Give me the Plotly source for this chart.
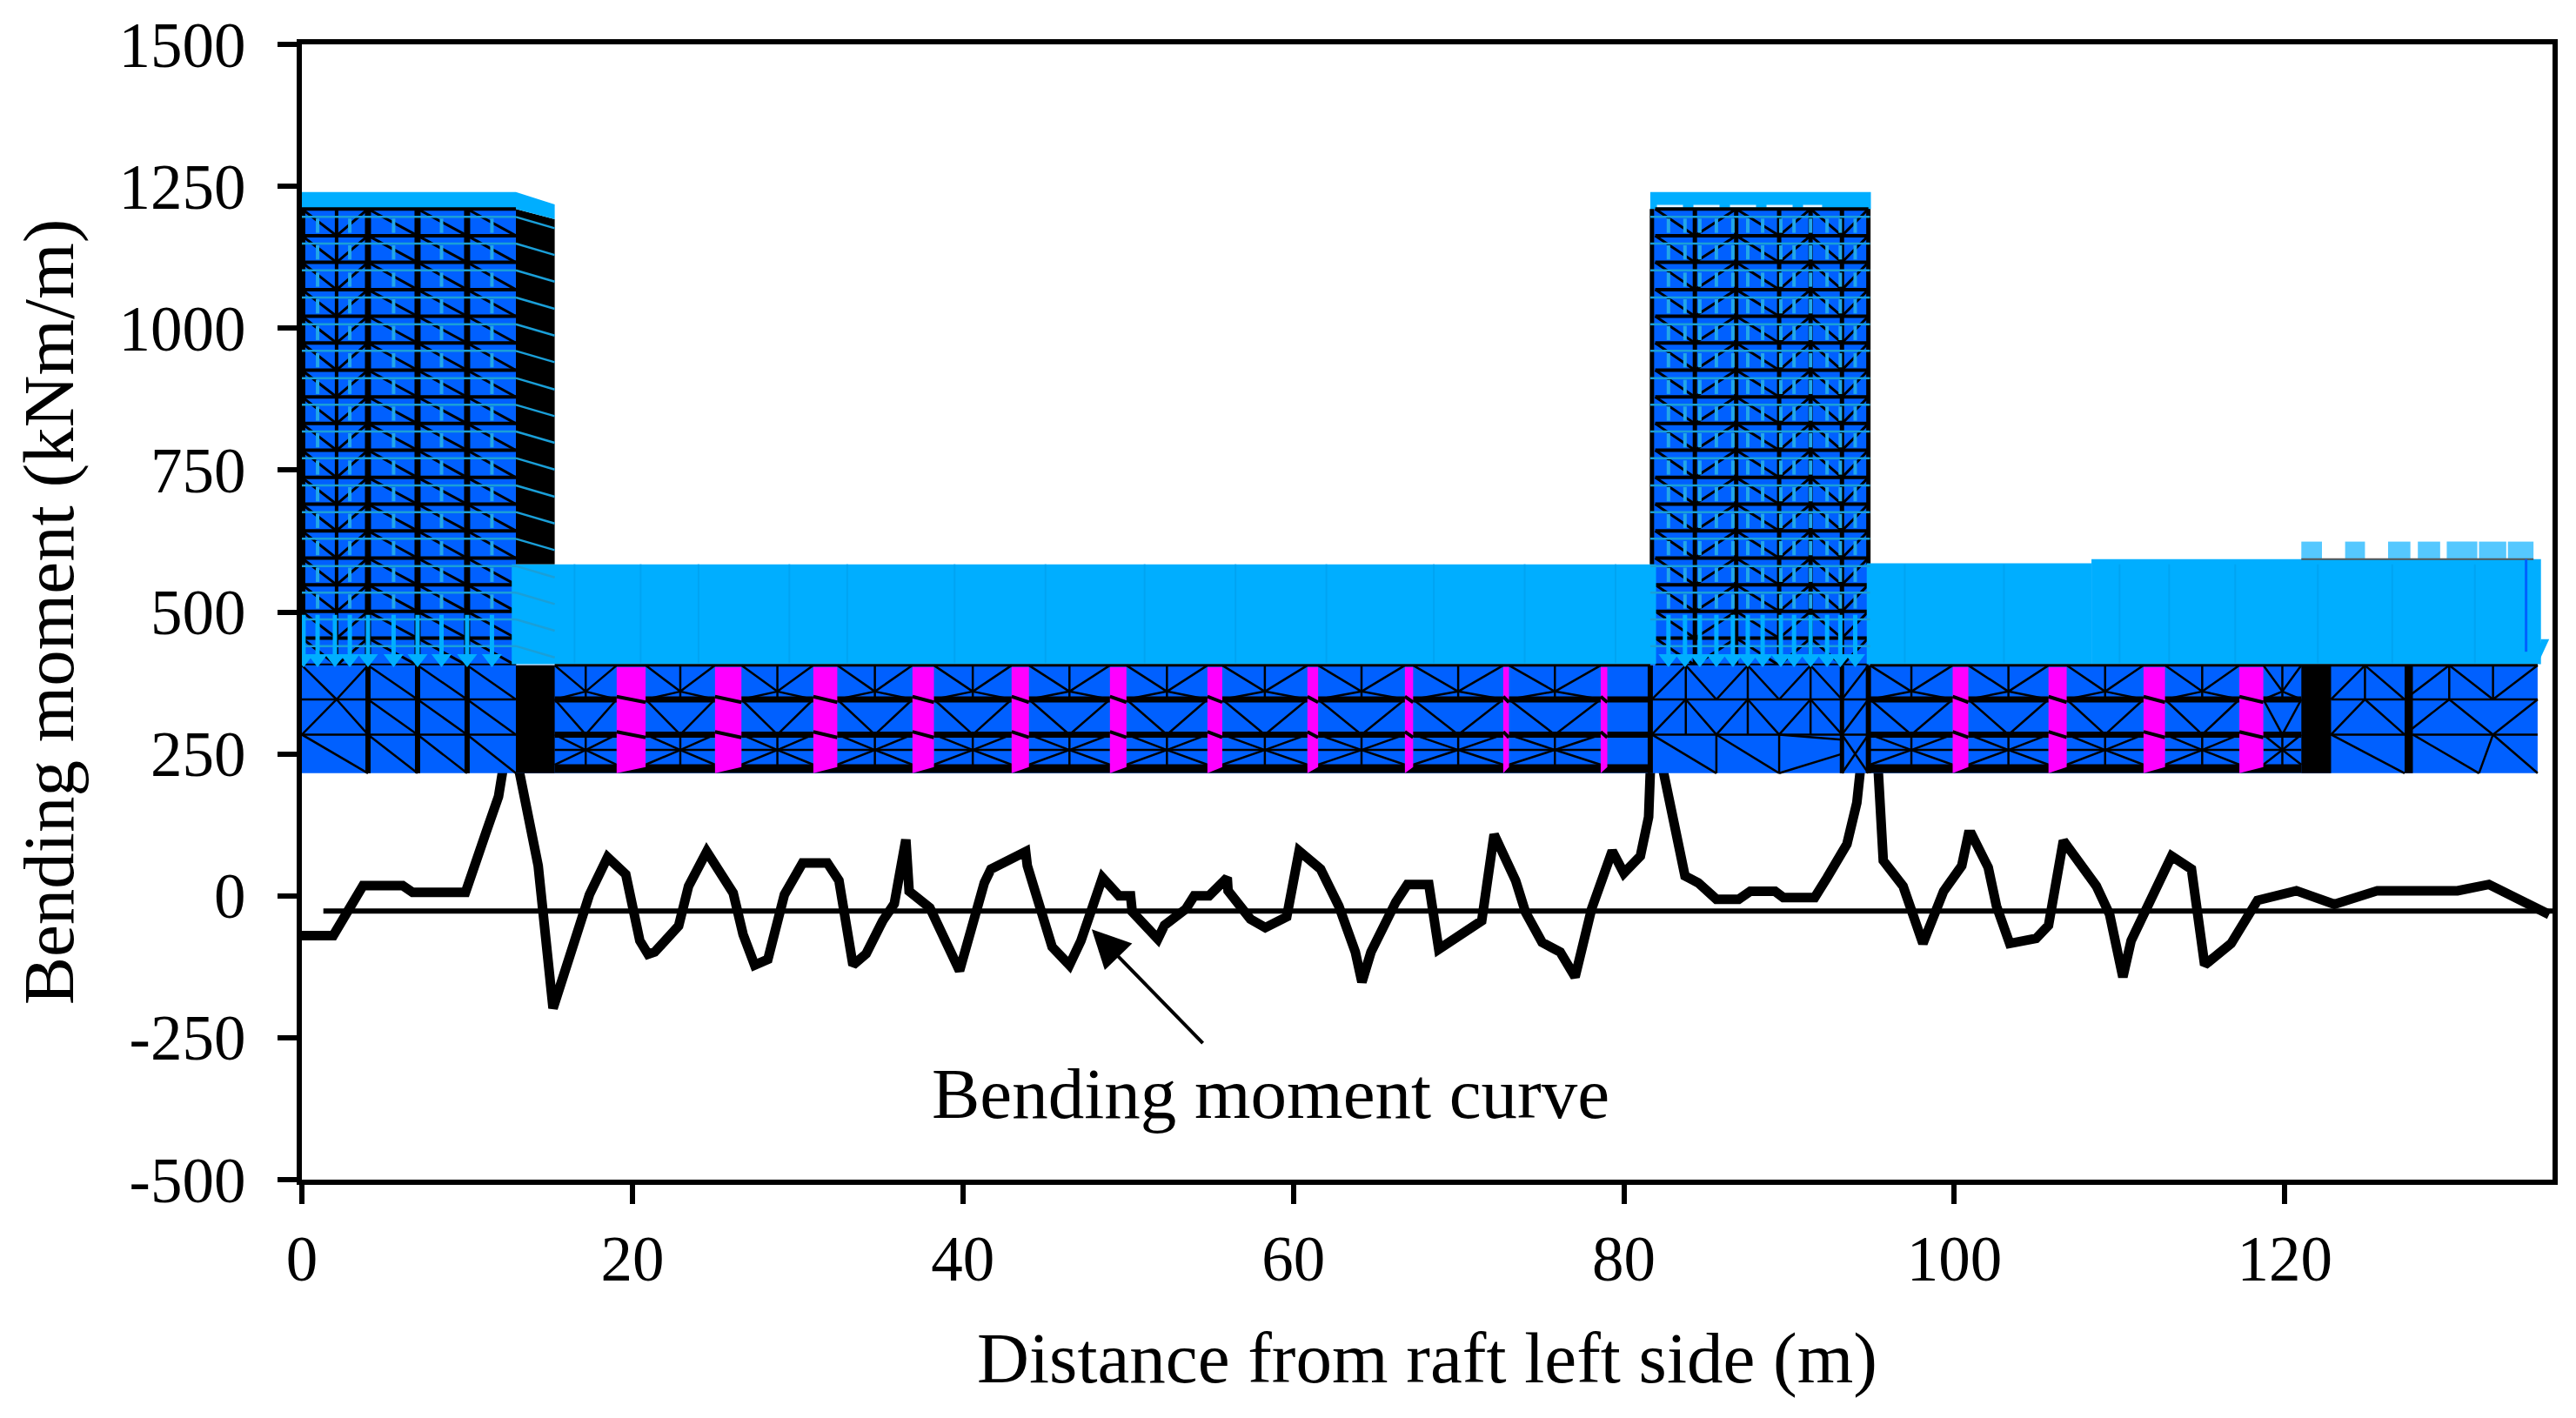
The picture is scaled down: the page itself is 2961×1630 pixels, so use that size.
import plotly.graph_objects as go

# bending moment curve (m, kNm/m)
distance = [0, 1.9, 3.7, 6.1, 6.7, 9.9, 11.1, 11.9, 12.6, 14.3, 15.2, 16.8, 17.4, 18.5, 19.6, 20.45, 20.95, 21.35,
            22.8, 23.4, 24.5, 26.1, 26.7, 27.4, 28.2, 29.2, 30.3, 31.8, 32.5, 33.35, 34.15, 35.15, 35.85, 36.55, 36.75,
            38.0, 39.8, 41.3, 41.7, 43.8, 43.9, 45.4, 46.45, 47.15, 48.45, 49.45, 50.15, 50.25, 51.8, 52.2, 53.5, 54.0,
            54.9, 56.0, 56.05, 57.4, 58.3, 59.6, 60.35, 61.65, 62.75, 63.75, 64.15, 64.7, 66.2, 66.9, 68.2, 68.8, 71.4,
            72.15, 73.45, 74.05, 75.05, 76.15, 77.05, 78.05, 79.3, 80.0, 81.0, 81.5, 81.6, 82.0, 82.4, 83.7, 84.5, 85.6,
            86.95, 87.65, 89.15, 89.65, 91.55, 92.3, 93.5, 94.1, 94.3, 94.8, 95.4, 95.7, 96.9, 98.1, 99.35, 100.45, 100.85,
            101.05, 102.05, 102.55, 103.35, 104.95, 105.7, 106.6, 108.6, 109.4, 110.2, 110.7, 112.1, 113.15, 114.35,
            115.15, 116.75, 118.35, 120.7, 123.0, 125.6, 130.45, 132.35, 134.2, 136.0]
moment = [-70, -70, 18, 18, 6, 6, 108, 175, 300, 53, -198, -59, 2, 68, 38, -79, -103, -99,
          -53, 17, 78, 5, -68, -122, -112, 2, 58, 58, 27, -122, -102, -44, -14, 99, 8,
          -21, -132, 23, 47, 78, 53, -90, -122, -79, 32, 0, 0, -28, -76, -52, -23, 0,
          0, 32, 9, -41, -56, -37, 79, 47, -18, -99, -152, -99, -11, 20, 20, -94, -44,
          108, 27, -29, -82, -99, -143, -23, 79, 40, 70, 139, 218, 300, 218, 35, 23, -6,
          -6, 8, 8, -3, -3, 32, 91, 164, 218, 300, 218, 62, 17, -84, 8, 53, 108,
          108, 50, -18, -84, -75, -52, 97, 17, -33, -143, -79, 12, 70, 47,
          -122, -84, -8, 9, -15, 9, 9, 20, -8, -33]

x_ticks = [0, 20, 40, 60, 80, 100, 120]
y_ticks = [-500, -250, 0, 250, 500, 750, 1000, 1250, 1500]
y_labels = ["-500", "-250", "0", "250", "500", "750", "1000", "1250", "1500"]

# model sketch behind the curve
floors = [1210, 1163, 1116, 1068, 1021, 974, 926, 879, 832, 785, 737, 690, 643, 595, 548, 501, 454, 406]
tower1_cols = [0, 2.1, 4.0, 7.0, 10.0, 12.95]
tower2_cols = [81.9, 84.3, 86.8, 89.4, 91.3, 93.2, 94.8]
tower1_arrows = [0.1, 0.95, 2.0, 2.9, 4.0, 5.55, 7.0, 8.45, 10.0, 11.5]
tower1_stubs = [0.95, 2.9, 5.55, 8.45, 11.5]
tower2_arrows = [82.7, 83.7, 84.6, 85.6, 86.6, 87.5, 88.4, 89.5, 90.3, 91.3, 92.3, 93.1, 94.0]
magenta_left = [19.05, 25.0, 30.95, 36.95, 42.95, 48.9, 54.8, 60.85, 66.75, 72.7, 78.6, 99.9, 105.7, 111.45, 117.25]
magenta_right = [20.8, 26.6, 32.4, 38.25, 44.0, 49.9, 55.7, 61.5, 67.25, 73.05, 79.0, 100.85, 106.8, 112.75, 118.7]
top_cells_start = [121.0, 123.65, 126.25, 128.05, 129.8, 131.75, 133.5]
top_cells_end = [122.25, 124.85, 127.6, 129.4, 131.65, 133.4, 135.05]
raft_rows = [406, 346, 284, 216]
band_stripes = [16.5, 20.5, 24.0, 29.5, 33.0, 39.5, 45.0, 51.0, 56.5, 62.0, 68.5, 74.0, 79.5, 97.0, 103.0, 110.0,
                113.0, 117.0, 122.0, 126.5, 131.5]

# lower part of the raft under tower 2 and at the far right, as wire paths
t2_zigzag_x = [81.7, 83.75, 85.6, 87.5, 89.4, 91.3, 93.2, 94.8]
t2_zigzag_y = [284, 346, 284, 346, 284, 346, 284, 346]
t2_upper_y = [346, 406, 346, 406, 346, 406, 346, 406]
t2_thin_cols = [83.75, 85.6, 87.5, 89.4, 91.3]
right_zigzag_x = [122.8, 124.85, 127.25, 129.95, 132.6, 135.3]
right_zigzag_y = [284, 346, 284, 346, 284, 346]
right_upper_y = [346, 406, 346, 406, 346, 406]
right_thin_cols = [124.85, 129.95, 132.6]

BLUE = "#0060ff"
SKY = "#00aeff"
PALE = "#55c8ff"
MAGENTA = "#ff00ff"

fig = go.Figure()


def poly(xs, ys, color):
    fig.add_trace(go.Scatter(x=xs, y=ys, mode="lines", fill="toself", fillcolor=color,
                             line=dict(width=0), hoverinfo="skip"))


def box(x0, x1, y0, y1, color):
    poly([x0, x1, x1, x0, x0], [y0, y0, y1, y1, y0], color)


def wires(segs, color="black", width=2, dash=None):
    xs, ys = [], []
    for x0, y0, x1, y1 in segs:
        xs += [x0, x1, None]
        ys += [y0, y1, None]
    fig.add_trace(go.Scatter(x=xs, y=ys, mode="lines", line=dict(color=color, width=width, dash=dash),
                             hoverinfo="skip"))


def path(xs, ys):
    return [(xs[i], ys[i], xs[i + 1], ys[i + 1]) for i in range(len(xs) - 1)]


def tower_mesh(cols, flip_at):
    segs = []
    for k in range(len(floors) - 1):
        up, low = floors[k], floors[k + 1]
        for i in range(len(cols) - 1):
            if i < flip_at and i % 2 == 1:
                segs.append((cols[i], low, cols[i + 1], up))
            else:
                segs.append((cols[i], up, cols[i + 1], low))
    return segs


def bay_mesh(x0, x1):
    mid = (x0 + x1) / 2
    return [(mid, 406, mid, 346), (x0, 406, mid, 360), (mid, 360, x1, 406), (x0, 346, mid, 360),
            (mid, 360, x1, 346), (x0, 346, mid, 284), (mid, 284, x1, 346), (x0, 257, x1, 257),
            (x0, 284, mid, 257), (mid, 257, x1, 284), (x0, 231, mid, 257), (mid, 257, x1, 231),
            (mid, 284, mid, 231)]


# the curve sits behind the model
fig.add_trace(go.Scatter(x=distance, y=moment, mode="lines", line=dict(color="black", width=11), hoverinfo="skip"))
wires([(1.3, -27, 136.2, -27)], width=6)

# towers
box(0, 12.95, 406, 1210, BLUE)
poly([12.95, 15.3, 15.3, 12.95, 12.95], [1210, 1192, 584, 584, 1210], "black")
box(81.6, 94.9, 406, 1210, BLUE)
poly([0, 12.95, 15.3, 15.3, 12.95, 0, 0], [1240, 1240, 1218, 1192, 1210, 1210, 1240], SKY)
box(81.6, 94.95, 1210, 1240, SKY)
wires([(82.0, 1215, 92.0, 1215)], color="#e8f6ff", width=3, dash="30px,12px")

wires(tower_mesh(tower1_cols, 2), width=3)
wires([(tower1_cols[0], f, tower1_cols[-1], f) for f in floors], width=4)
wires([(c, 1210, c, 406) for c in tower1_cols[2:5]], width=7)
wires([(tower1_cols[1], 1210, tower1_cols[1], 406), (0.1, 1210, 0.1, 406)], width=4)
wires(tower_mesh(tower2_cols, 6), width=3)
wires([(tower2_cols[0], f, tower2_cols[-1], f) for f in floors], width=4)
wires([(c, 1210, c, 406) for c in tower2_cols[1:6]], width=5)
wires([(81.7, 1210, 81.7, 584), (94.8, 1210, 94.8, 584)], width=5)

# raft
box(0, 135.3, 216, 406, BLUE)
box(12.95, 15.3, 216, 406, "black")
box(121.0, 122.8, 216, 406, "black")
box(127.25, 127.75, 216, 406, "black")

segs = []
for i in range(2, 5):
    x0, x1 = tower1_cols[i], tower1_cols[i + 1]
    segs += [(x0, 406, x1, 346), (x0, 346, x1, 284), (x0, 284, x1, 216)]
for r in raft_rows[1:3]:
    segs += [(0, r, 12.95, r), (81.6, r, 94.9, r), (122.8, r, 135.3, r)]
segs += [(0, 406, 2.1, 346), (2.1, 346, 4.0, 406), (0, 284, 2.1, 346), (2.1, 346, 4.0, 284), (0, 284, 4.0, 216)]
segs += path(t2_zigzag_x, t2_zigzag_y) + path(t2_zigzag_x, t2_upper_y)
segs += [(81.7, 284, 85.6, 216), (85.6, 284, 89.4, 216), (89.4, 216, 93.2, 250), (89.4, 284, 93.2, 275),
         (93.2, 216, 94.8, 284), (93.2, 284, 94.8, 216)]
segs += [(c, 406, c, 284) for c in t2_thin_cols[::2]] + [(c, 284, c, 216) for c in t2_thin_cols[1::2]]
segs += path(right_zigzag_x, right_zigzag_y) + path(right_zigzag_x, right_upper_y)
segs += [(122.8, 284, 127.25, 216), (127.75, 284, 131.75, 216), (132.6, 284, 135.3, 216), (131.75, 216, 132.6, 284)]
segs += [(c, 406, c, 346) for c in right_thin_cols]
bay_edges = [15.3] + [v for pair in zip(magenta_left[:11], magenta_right[:11]) for v in pair] + [81.6]
for i in range(0, 22, 2):
    segs += bay_mesh(bay_edges[i], bay_edges[i + 1])
segs += bay_mesh(94.9, magenta_left[11])
for i in range(3):
    segs += bay_mesh(magenta_right[11 + i], magenta_left[12 + i])
segs += bay_mesh(magenta_right[14], 121.0)
wires(segs, width=2.5)
wires([(c, 406, c, 216) for c in tower1_cols[2:5]], width=6)
wires([(93.2, 406, 93.2, 216)], width=5)
wires([(81.6, 406, 81.6, 216), (94.8, 406, 94.8, 216)], width=6)

thick = []
bottom = []
for span in ((15.3, 81.6), (94.9, 121.0)):
    thick += [(span[0], 346, span[1], 346), (span[0], 284, span[1], 284)]
    bottom.append((span[0], 224, span[1], 224))
wires(thick, width=7)
wires(bottom, width=10)

for left, right in zip(magenta_left, magenta_right):
    poly([left, right, right, left, left], [403, 403, 227, 216, 403], MAGENTA)
wires([(a, r + 5, b, r - 5) for a, b in zip(magenta_left, magenta_right) for r in raft_rows[1:3]], width=4)

# loads
box(12.7, 81.95, 408, 584, SKY)
box(94.7, 108.3, 408, 586, SKY)
box(108.3, 135.5, 408, 593, SKY)
poly([135.3, 136.0, 135.5, 135.3], [408, 452, 452, 408], SKY)
wires([(s, 584, s, 410) for s in band_stripes], color="#00a4f2", width=2)
for left, right in zip(top_cells_start, top_cells_end):
    box(left, right, 593, 624, PALE)
wires([(121.0, 593, 135.05, 593)], color="#555555", width=2)
wires([(134.6, 593, 134.6, 430)], color=BLUE, width=3)
wires([(15.3, 406, 81.6, 406), (94.9, 406, 135.3, 406)], width=3)

stubs = []
for level in floors[1:-2]:
    stubs += [(c, level + 30, c, level + 5) for c in tower1_stubs + tower2_arrows]
wires(stubs, color="#22a7e8", width=4)
cyan = []
for level in floors[:-1]:
    cyan += [(0, level - 14, 12.95, level - 14), (12.95, level - 14, 15.3, level - 34),
             (81.6, level - 14, 94.9, level - 14)]
wires(cyan, color="#1a9fd8", width=2.5)

arrows = tower1_arrows + tower2_arrows
wires([(c, 495, c, 420) for c in arrows], color=SKY, width=5)
fig.add_trace(go.Scatter(x=arrows, y=[418] * len(arrows), mode="markers", hoverinfo="skip",
                         marker=dict(symbol="triangle-down", size=20, color=SKY, line=dict(width=0))))

fig.add_annotation(x=47.8, y=-59, ax=54.6, ay=-262, xref="x", yref="y", axref="x", ayref="y", text="",
                   showarrow=True, arrowhead=2, arrowsize=2.2, arrowwidth=4, arrowcolor="black")
fig.add_annotation(x=58.6, y=-348, xref="x", yref="y", text="Bending moment curve", showarrow=False,
                   font=dict(family="Liberation Serif", size=83, color="black"))

fig.update_layout(
    width=2961, height=1630, autosize=False, showlegend=False,
    margin=dict(l=347, r=27, t=43, b=274),
    paper_bgcolor="white", plot_bgcolor="white",
    font=dict(family="Liberation Serif", size=73, color="black"),
)
fig.update_xaxes(range=[0, 136.2], tickvals=x_ticks, ticks="outside", ticklen=22, tickwidth=6, tickcolor="black",
                 showline=True, linewidth=6, linecolor="black", mirror=True, showgrid=False, zeroline=False,
                 tickfont=dict(size=73),
                 title=dict(text="Distance from raft left side (m)", standoff=46, font=dict(size=83)))
fig.update_yaxes(range=[-500, 1500], tickvals=y_ticks, ticktext=y_labels, ticks="outside", ticklen=22, tickwidth=6,
                 tickcolor="black", showline=True, linewidth=6, linecolor="black", mirror=True, showgrid=False,
                 zeroline=False, tickfont=dict(size=73), ticklabelstandoff=22,
                 title=dict(text="Bending moment (kNm/m)", standoff=26, font=dict(size=83)))

fig.write_html("out.html", config={"displayModeBar": False}, post_script="document.body.style.margin='0';")
